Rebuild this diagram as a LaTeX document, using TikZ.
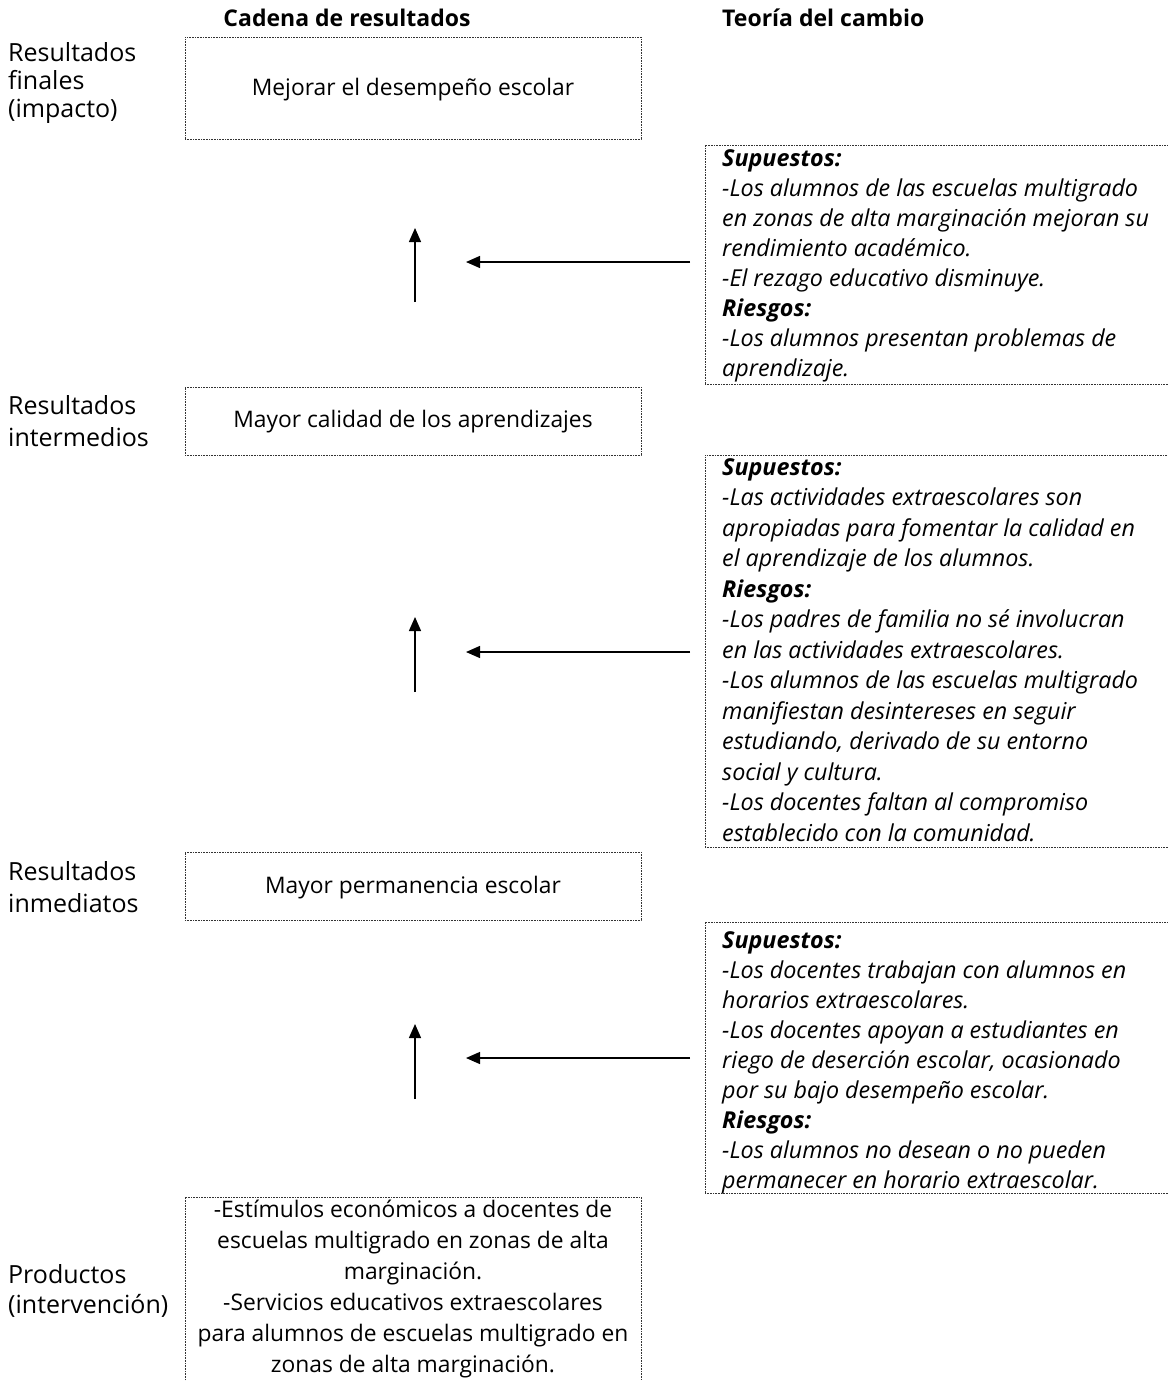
\documentclass[tikz,border=0pt]{standalone}
\usepackage{fontspec}
\setmainfont{Open Sans}
\usetikzlibrary{arrows.meta}
\begin{document}
\begin{tikzpicture}[x=1pt,y=-1pt,
  dotbox/.style={draw=black!80, line width=0.8pt, dash pattern=on 0.8pt off 0.8pt, inner sep=0pt, outer sep=0pt, anchor=north west},
  maintxt/.style={font=\fontsize{22.8}{31}\selectfont, align=center, inner sep=0pt},
  lbl/.style={font=\fontsize{25}{28}\selectfont, align=left, anchor=west, inner sep=0pt},
  head/.style={font=\bfseries\fontsize{23}{26}\selectfont, inner sep=0pt},
  note/.style={font=\itshape\fontsize{23.3}{30}\selectfont, align=left, anchor=north west, inner sep=0pt},
  arr/.style={line width=1.3pt, -{Triangle[length=14pt,width=12pt]}}
]
\useasboundingbox (0,0) rectangle (1167,1381);

% headings
\node[head] (h1) at (347,18) {Cadena de resultados};
\node[head, anchor=west] (h2) at (722,18) {Teoría del cambio};

% left labels
\node[lbl] (l1) at (8,83) {Resultados\\finales\\(impacto)};
\node[lbl, font=\fontsize{25}{32}\selectfont] (l2) at (8,421) {Resultados\\intermedios};
\node[lbl, font=\fontsize{25}{32}\selectfont] (l3) at (8,887) {Resultados\\inmediatos};
\node[lbl, font=\fontsize{25}{30}\selectfont] (l4) at (8,1291) {Productos\\(intervención)};

% result chain boxes
\node[dotbox, minimum width=456pt, minimum height=102pt] (b1) at (185,37) {};
\node[dotbox, minimum width=456pt, minimum height=68pt] (b2) at (185,387) {};
\node[dotbox, minimum width=456pt, minimum height=68pt] (b3) at (185,852) {};
\node[dotbox, minimum width=456pt, minimum height=210pt] (b4) at (185,1197) {};

\node[maintxt] (t1) at (413,90) {Mejorar el desempeño escolar};
\node[maintxt] (t2) at (413,422) {Mayor calidad de los aprendizajes};
\node[maintxt] (t3) at (413,888) {Mayor permanencia escolar};
\node[maintxt] (t4) at (413,1289) {-Estímulos económicos a docentes de\\escuelas multigrado en zonas de alta\\marginación.\\-Servicios educativos extraescolares\\para alumnos de escuelas multigrado en\\zonas de alta marginación.};

% theory of change boxes
\node[dotbox, minimum width=475pt, minimum height=239pt] (r1) at (705,145) {};
\node[dotbox, minimum width=475pt, minimum height=392pt] (r2) at (705,455) {};
\node[dotbox, minimum width=475pt, minimum height=271pt] (r3) at (705,922) {};

\node[note] (n1) at (722,149) {\textbf{Supuestos:}\\-Los alumnos de las escuelas multigrado\\en zonas de alta marginación mejoran su\\rendimiento académico.\\-El rezago educativo disminuye.\\\textbf{Riesgos:}\\-Los alumnos presentan problemas de\\aprendizaje.};
\node[note, font=\itshape\fontsize{23.3}{30.5}\selectfont] (n2) at (722,458) {\textbf{Supuestos:}\\-Las actividades extraescolares son\\apropiadas para fomentar la calidad en\\el aprendizaje de los alumnos.\\\textbf{Riesgos:}\\-Los padres de familia no sé involucran\\en las actividades extraescolares.\\-Los alumnos de las escuelas multigrado\\manifiestan desintereses en seguir\\estudiando, derivado de su entorno\\social y cultura.\\-Los docentes faltan al compromiso\\establecido con la comunidad.};
\node[note] (n3) at (722,931) {\textbf{Supuestos:}\\-Los docentes trabajan con alumnos en\\horarios extraescolares.\\-Los docentes apoyan a estudiantes en\\riego de deserción escolar, ocasionado\\por su bajo desempeño escolar.\\\textbf{Riesgos:}\\-Los alumnos no desean o no pueden\\permanecer en horario extraescolar.};

% arrows
\coordinate (a1s) at (415,302); \coordinate (a1e) at (415,228);
\coordinate (g1s) at (690,262); \coordinate (g1e) at (466,262);
\coordinate (a2s) at (415,692); \coordinate (a2e) at (415,617);
\coordinate (g2s) at (690,652); \coordinate (g2e) at (466,652);
\coordinate (a3s) at (415,1099); \coordinate (a3e) at (415,1024);
\coordinate (g3s) at (690,1058); \coordinate (g3e) at (466,1058);
\draw[arr] (a1s) -- (a1e);
\draw[arr] (g1s) -- (g1e);
\draw[arr] (a2s) -- (a2e);
\draw[arr] (g2s) -- (g2e);
\draw[arr] (a3s) -- (a3e);
\draw[arr] (g3s) -- (g3e);
\end{tikzpicture}
\end{document}
